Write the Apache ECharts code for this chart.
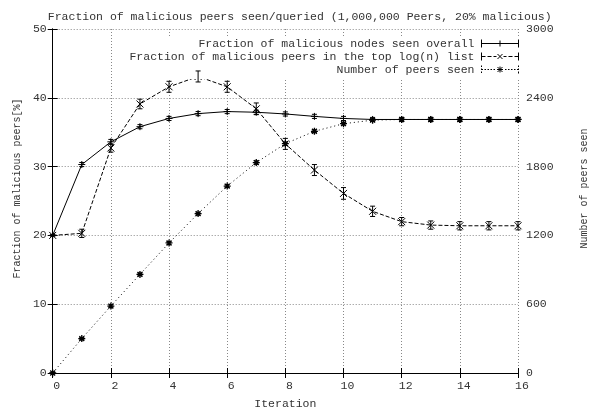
<!DOCTYPE html>
<html>
<head>
<meta charset="utf-8">
<script src="https://cdn.jsdelivr.net/npm/echarts@6/dist/echarts.min.js"></script>
<style>html,body{margin:0;padding:0;background:#fff}#c{width:597px;height:415px}</style>
</head>
<body>
<div id="c"></div>
<script>
var iterations = [0,1,2,3,4,5,6,7,8,9,10,11,12,13,14,15,16];
var overall = [20, 30.3, 33.6, 35.8, 37.0, 37.7, 38.0, 37.9, 37.65, 37.3, 37.0, 36.85, 36.85, 36.85, 36.85, 36.85, 36.85];
var overallErr = [0.1, 0.3, 0.35, 0.3, 0.3, 0.3, 0.3, 0.3, 0.3, 0.3, 0.3, 0.3, 0.3, 0.3, 0.3, 0.3, 0.3];
var topLog = [20, 20.3, 32.7, 39.1, 41.6, 43.1, 41.6, 38.4, 33.3, 29.5, 26.1, 23.5, 22.0, 21.5, 21.4, 21.4, 21.4];
var topLogErr = [0.1, 0.6, 0.6, 0.7, 0.8, 0.8, 0.8, 0.85, 0.8, 0.8, 0.85, 0.75, 0.6, 0.6, 0.6, 0.6, 0.6];
var peersSeen = [0, 300, 584, 860, 1134, 1390, 1630, 1835, 2000, 2108, 2174, 2205, 2211, 2211, 2211, 2211, 2211];
var peersErr = [0, 10, 10, 12, 12, 12, 12, 15, 15, 12, 12, 10, 10, 10, 10, 10, 10];
var names = ['Fraction of malicious nodes seen overall', 'Fraction of malicious peers in the top log(n) list', 'Number of peers seen'];
var titleText = 'Fraction of malicious peers seen/queried (1,000,000 Peers, 20% malicious)';

var FONT = 'Liberation Mono';
var TXT = '#333';
var FS = 11.5;

function pairs(v) { return iterations.map(function (x, i) { return [x, v[i]]; }); }
function errData(v, e) { return iterations.map(function (x, i) { return [x, v[i] - e[i], v[i] + e[i]]; }); }
function errRender(params, api) {
  var x = api.value(0);
  var lo = api.coord([x, api.value(1)]);
  var hi = api.coord([x, api.value(2)]);
  var w = 2.5;
  var st = { stroke: '#000', lineWidth: 1 };
  return { type: 'group', children: [
    { type: 'line', shape: { x1: lo[0], y1: lo[1], x2: hi[0], y2: hi[1] }, style: st },
    { type: 'line', shape: { x1: lo[0] - w, y1: lo[1], x2: lo[0] + w, y2: lo[1] }, style: st },
    { type: 'line', shape: { x1: hi[0] - w, y1: hi[1], x2: hi[0] + w, y2: hi[1] }, style: st }
  ]};
}

var symPlus = 'path://M0,5L10,5M5,0L5,10';
var symX = 'path://M0,0L10,10M10,0L0,10';
var symStar = 'path://M0,5L10,5M5,0L5,10M1.5,1.5L8.5,8.5M8.5,1.5L1.5,8.5';

// legend sample icons (error-bar style key, as in the reference)
var iconSolid = 'path://M0,0L0,8M0,4L37,4M37,0L37,8M18.5,1L18.5,7';
var iconDashed = 'path://M0,0L0,8M0,4L4,4M6,4L10,4M12,4L15,4M22,4L25,4M27,4L31,4M33,4L37,4M37,0L37,8M16,1.5L21,6.5M21,1.5L16,6.5';
var iconDotted = 'path://M0,0L0,1.5M0,3L0,4.5M0,6L0,7.5M0,4L1.5,4M3,4L4.5,4M6,4L7.5,4M9,4L10.5,4M12,4L13.5,4M15.5,4L21.5,4M18.5,1L18.5,7M16,1.5L21,6.5M21,1.5L16,6.5M23.5,4L25,4M26.5,4L28,4M29.5,4L31,4M32.5,4L34,4M35.5,4L37,4M37,0L37,1.5M37,3L37,4.5M37,6L37,8';

var chart = echarts.init(document.getElementById('c'), null, { renderer: 'canvas' });
chart.setOption({
  backgroundColor: '#fff',
  animation: false,
  textStyle: { fontFamily: FONT, color: TXT },
  title: {
    text: titleText, left: 294.7, top: 6, textAlign: 'center',
    textStyle: { fontFamily: FONT, fontSize: FS, fontWeight: 'normal', color: TXT }
  },
  grid: { left: 52.7, right: 60.3, top: 29, bottom: 35 },
  legend: {
    data: [
      { name: names[0], icon: iconSolid },
      { name: names[1], icon: iconDashed },
      { name: names[2], icon: iconDotted }
    ],
    orient: 'vertical', align: 'right', right: 74, top: 36,
    itemWidth: 37, itemHeight: 8, itemGap: 0, padding: [1, 2, 3, 2],
    symbolKeepAspect: false,
    backgroundColor: '#fff',
    itemStyle: { color: 'none', borderColor: '#000', borderWidth: 1 },
    textStyle: { fontFamily: FONT, fontSize: FS, color: TXT, lineHeight: 10.5, padding: [0, 2, 0, 0] }
  },
  xAxis: [{
    type: 'value', min: 0, max: 16, interval: 2, position: 'bottom',
    name: 'Iteration', nameLocation: 'middle', nameGap: 25,
    nameTextStyle: { fontFamily: FONT, fontSize: FS, color: TXT },
    axisLine: { lineStyle: { color: '#000', width: 1 } },
    axisTick: { inside: true, length: 5, lineStyle: { color: '#000' } },
    axisLabel: { fontFamily: FONT, fontSize: FS, color: TXT, margin: 7, padding: [0, 0, 0, 8] },
    splitLine: { show: true, lineStyle: { color: '#888', type: [1, 2], width: 1 } }
  }, {
    type: 'value', min: 0, max: 16, interval: 2, position: 'top',
    axisLine: { lineStyle: { color: '#000', width: 1 } },
    axisTick: { inside: true, length: 5, lineStyle: { color: '#000' } },
    axisLabel: { show: false }, splitLine: { show: false }
  }],
  yAxis: [{
    type: 'value', min: 0, max: 50, interval: 10, position: 'left',
    name: 'Fraction of malicious peers[%]', nameLocation: 'middle', nameGap: 28,
    nameTextStyle: { fontFamily: FONT, fontSize: 10, color: TXT, padding: [0, 0, 0, 25] },
    axisLine: { show: true, lineStyle: { color: '#000', width: 1 } },
    axisTick: { show: true, inside: true, length: 5, lineStyle: { color: '#000' } },
    axisLabel: { fontFamily: FONT, fontSize: FS, color: TXT, margin: 6 },
    splitLine: { show: true, lineStyle: { color: '#888', type: [1, 2], width: 1 } }
  }, {
    type: 'value', min: 0, max: 3000, interval: 600, position: 'right',
    name: 'Number of peers seen', nameLocation: 'middle', nameGap: 61,
    nameTextStyle: { fontFamily: FONT, fontSize: 10, color: TXT, padding: [0, 0, 0, 25] },
    axisLine: { show: true, lineStyle: { color: '#000', width: 1 } },
    axisTick: { show: true, inside: true, length: 5, lineStyle: { color: '#000' } },
    axisLabel: { fontFamily: FONT, fontSize: FS, color: TXT, margin: 8, formatter: function (v) { return String(v); } },
    splitLine: { show: false }
  }],
  series: [
    {
      name: names[0], type: 'line', data: pairs(overall), xAxisIndex: 0, yAxisIndex: 0,
      symbol: symPlus, symbolSize: 7,
      itemStyle: { color: 'none', borderColor: '#000', borderWidth: 1 },
      lineStyle: { color: '#000', width: 1, type: 'solid' }, z: 3
    },
    {
      name: names[1], type: 'line', data: pairs(topLog), xAxisIndex: 0, yAxisIndex: 0,
      symbol: symX, symbolSize: 7,
      itemStyle: { color: 'none', borderColor: '#000', borderWidth: 1 },
      lineStyle: { color: '#000', width: 1, type: [4, 2] }, z: 3
    },
    {
      name: names[2], type: 'line', data: pairs(peersSeen), xAxisIndex: 0, yAxisIndex: 1,
      symbol: symStar, symbolSize: 7,
      itemStyle: { color: 'none', borderColor: '#000', borderWidth: 1.3 },
      lineStyle: { color: '#000', width: 1, type: [1, 3] }, z: 3
    },
    { type: 'custom', renderItem: errRender, data: errData(overall, overallErr), xAxisIndex: 0, yAxisIndex: 0, encode: { x: 0, y: [1, 2] }, silent: true, z: 4 },
    { type: 'custom', renderItem: errRender, data: errData(topLog, topLogErr), xAxisIndex: 0, yAxisIndex: 0, encode: { x: 0, y: [1, 2] }, silent: true, z: 4 },
    { type: 'custom', renderItem: errRender, data: errData(peersSeen, peersErr), xAxisIndex: 0, yAxisIndex: 1, encode: { x: 0, y: [1, 2] }, silent: true, z: 4 }
  ]
});
</script>
</body>
</html>
